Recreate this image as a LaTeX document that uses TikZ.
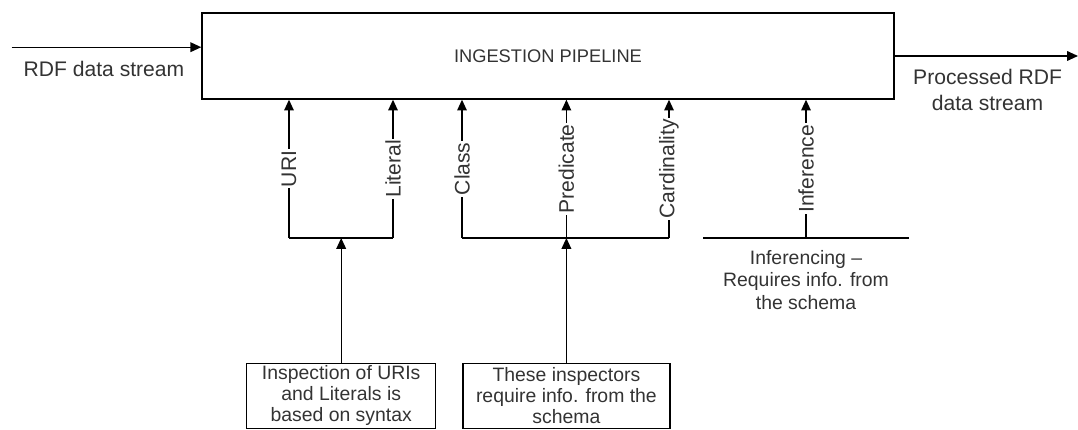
\documentclass[tikz,border=0pt]{standalone}
\usepackage{fontspec}
\setmainfont{Liberation Sans}
\usetikzlibrary{arrows.meta}

\tikzset{
 stagebox/.style={draw,line width=1pt,inner sep=0pt,align=center,text=black!80},
 tag/.style={fill=white,inner sep=1pt,rotate=90,text=black!80,font=\fontsize{15}{18}\selectfont},
 note/.style={align=center,inner sep=0pt,text=black!80}
}

\begin{document}
\begin{tikzpicture}[line width=0.95pt,>={Triangle[length=2.7mm,width=2.4mm]}]
 \useasboundingbox (0,0) rectangle (26.95,-10.75);
 \node[stagebox,minimum width=17.3cm,minimum height=2.15cm,font=\fontsize{13}{15}\selectfont] (pipe) at (13.7,-1.4) {INGESTION PIPELINE};
 \coordinate (rdfin) at (0.29,-1.18);
 \coordinate (rdfout) at (26.95,-1.4);
 \draw[->] (rdfin) -- (rdfin -| pipe.west);
 \draw[->] (pipe.east |- rdfout) -- (rdfout);
 \node[note,anchor=base,font=\fontsize{15}{18}\selectfont] (inlbl) at (2.6,-1.92) {RDF data stream};
 \node[note,font=\fontsize{15}{18.4}\selectfont] (outlbl) at (24.69,-2.24) {Processed RDF\\data stream};
 \node[stagebox,minimum width=4.725cm,minimum height=1.625cm,font=\fontsize{13.8}{14.9}\selectfont] (syntax) at (8.53,-9.895) {Inspection of URIs\\and Literals is\\based on syntax};
 \node[stagebox,minimum width=5.18cm,minimum height=1.625cm,font=\fontsize{13.8}{14.9}\selectfont] (schema) at (14.16,-9.895) {These inspectors\\require info. from the\\schema};
 \coordinate (uri) at (7.225,-5.95);
 \coordinate (lit) at (9.825,-5.95);
 \coordinate (cls) at (11.55,-5.95);
 \coordinate (pred) at (schema.north |- uri);
 \coordinate (card) at (16.725,-5.95);
 \coordinate (infl) at (17.575,-5.95);
 \coordinate (infr) at (22.725,-5.95);
 \coordinate (inf) at (20.15,-5.95);
 \draw (uri) -- (lit);
 \draw (cls) -- (card);
 \draw (infl) -- (infr);
 \draw[->] (syntax) -- (syntax.north |- uri);
 \draw[->] (schema) -- (pred);
 \foreach \c/\t in {uri/URI,lit/Literal,cls/Class,pred/Predicate,card/Cardinality,inf/Inference}
  \draw[->] (\c) -- (\c |- pipe.south) node[tag,midway] {\t};
 \node[note,font=\fontsize{13.8}{15.9}\selectfont] (inflbl) at (20.15,-7.0) {Inferencing --\\Requires info. from\\the schema};
\end{tikzpicture}
\end{document}
